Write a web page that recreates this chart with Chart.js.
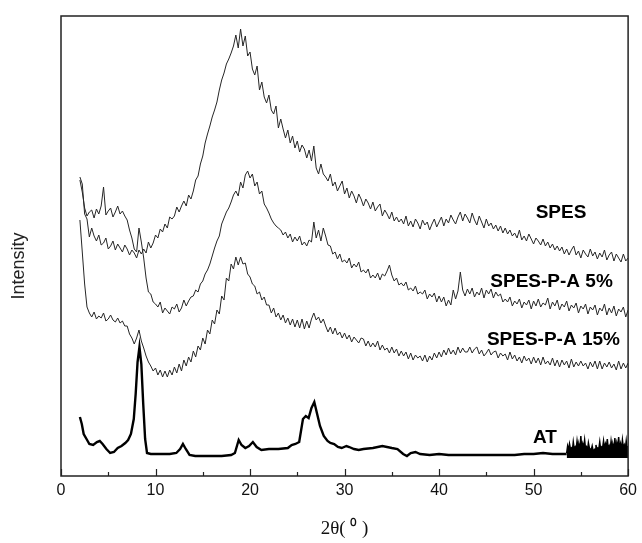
<!DOCTYPE html>
<html>
<head>
<meta charset="utf-8">
<script src="https://cdn.jsdelivr.net/npm/chart.js@4.4.1/dist/chart.umd.min.js"></script>
<style>
  html, body { margin: 0; padding: 0; background: #fff; }
  #xrd { display: block; }
</style>
</head>
<body>
<canvas id="xrd" width="642" height="543"></canvas>
<script>
// Scan grid for the three membrane patterns: 2θ from 2° in 0.25° steps
const scanStart = 2;
const scanStep = 0.25;

// Intensity (a.u.), one row per degree (.00 .25 .50 .75)
const spesCounts = [
  297, 290, 260, 255,
  237, 246, 238, 233,
  239, 229, 231, 236,
  225, 228, 233, 224,
  230, 226, 222, 229,
  225, 219, 224, 221,
  216, 224, 220, 225,
  221, 232, 226, 231,
  239, 236, 245, 242,
  250, 246, 257, 255,
  258, 267, 262, 268,
  273, 268, 279, 275,
  283, 294, 298, 310,
  318, 331, 340, 348,
  357, 364, 372, 384,
  394, 401, 410, 415,
  421, 428, 439, 426,
  445, 428, 438, 418,
  422, 405, 399, 408,
  384, 392, 377, 371,
  379, 364, 360, 368,
  346, 355, 345, 336,
  344, 331, 338, 326,
  333, 322, 329, 325,
  316, 324, 313, 328,
  306, 300, 310, 300,
  297, 293, 300, 288,
  292, 283, 288, 293,
  280, 286, 276, 283,
  278, 271, 280, 275,
  268, 275, 271, 265,
  272, 263, 267, 270,
  258, 264, 260, 255,
  262, 253, 257, 252,
  255, 250, 258, 248,
  253, 247, 255, 251,
  245, 254, 249, 252,
  244, 250, 255, 247,
  252, 257, 248, 255,
  251, 259, 254, 250,
  257, 262, 253, 260,
  256, 251, 261, 254,
  249, 258, 252, 246,
  255, 248, 251, 245,
  249, 243, 248, 241,
  246, 240, 244, 238,
  241, 236, 244, 234,
  238, 233, 240, 235,
  230, 236, 233, 229,
  235, 228, 232, 226,
  230, 224, 228, 223,
  227, 220, 225, 219,
  224, 228, 219, 223,
  216, 224, 220, 217,
  225, 218, 222, 215,
  221, 217, 224, 214,
  219, 222, 213, 220,
  216, 212, 220, 213,
  216
];

const spa5Counts = [
  294, 282, 266, 258,
  262, 264, 256, 265,
  260, 268, 287, 259,
  263, 266, 257, 262,
  268, 260, 263, 258,
  254, 244, 236, 225,
  222, 246, 232, 216,
  196, 182, 180, 172,
  170, 167, 172, 161,
  166, 163, 160, 167,
  165, 170, 162, 166,
  174, 168, 173, 177,
  178, 184, 182, 190,
  193, 200, 204, 210,
  218, 226, 233, 238,
  250, 256, 262, 266,
  272, 279, 283, 278,
  292, 286, 299, 303,
  296, 300, 288, 292,
  280, 283, 270, 266,
  261, 255, 251, 248,
  246, 244, 239, 242,
  236, 240, 232, 237,
  233, 238, 229, 232,
  228, 234, 232, 252,
  236, 244, 233, 246,
  238, 229, 228, 220,
  222, 215, 220, 212,
  214, 211, 216, 206,
  210, 207, 212, 202,
  204, 201, 205, 196,
  199, 196, 201, 194,
  200, 198, 203, 209,
  199, 193, 196, 189,
  191, 188, 192, 184,
  186, 183, 188, 180,
  182, 180, 184, 175,
  180, 177, 181, 172,
  178, 172, 177, 168,
  174, 169, 184, 175,
  183, 202, 184, 178,
  185, 180, 186, 177,
  182, 179, 186, 176,
  184, 180, 185, 176,
  182, 178, 180, 172,
  175, 172, 177, 168,
  173, 170, 175, 166,
  172, 169, 174, 165,
  173, 168, 175, 167,
  171, 169, 176, 165,
  172, 168, 174, 164,
  170, 167, 173, 163,
  169, 166, 171, 161,
  168, 165, 170, 160,
  167, 164, 169, 159,
  166, 163, 170, 159,
  166, 161, 168, 158,
  165, 162, 167, 157,
  164
];

const spa15Counts = [
  254, 222, 190, 167,
  161, 157, 162, 155,
  158, 156, 161, 153,
  155, 159, 154, 152,
  156, 151, 153, 148,
  148, 140, 136, 130,
  136, 144, 133, 126,
  118, 112, 108, 103,
  106, 99, 104, 97,
  103, 97, 104, 99,
  107, 101, 110, 103,
  114, 108, 117, 112,
  123, 117, 128, 124,
  136, 130, 144, 140,
  154, 150, 164, 160,
  178, 174, 196, 193,
  210, 205, 217, 209,
  217, 210, 211, 200,
  197, 190, 188, 180,
  182, 174, 177, 169,
  169, 161, 166, 157,
  161, 154, 159, 151,
  156, 149, 155, 147,
  154, 146, 155, 145,
  153, 146, 155, 161,
  154, 157, 151, 155,
  148, 142, 147, 140,
  146, 139, 142, 136,
  141, 135, 139, 132,
  137, 134, 131, 136,
  135, 128, 133, 127,
  131, 127, 133, 124,
  129, 124, 126, 121,
  127, 121, 125, 118,
  123, 118, 122, 115,
  121, 114, 119, 116,
  118, 113, 119, 112,
  118, 114, 121, 116,
  122, 117, 124, 119,
  126, 120, 124, 119,
  127, 121, 126, 122,
  122, 127, 121, 125,
  127, 120, 124, 118,
  121, 125, 119, 122,
  123, 116, 121, 118,
  120, 114, 122, 115,
  119, 113, 117, 111,
  118, 113, 116, 110,
  117, 111, 116, 109,
  117, 110, 113, 109,
  116, 108, 114, 107,
  114, 109, 113, 106,
  115, 107, 112, 108,
  113, 108, 111, 105,
  112, 107, 113, 105,
  113, 105, 111, 107,
  112, 106, 110, 104,
  113, 105, 111, 106,
  111
];

// AT pattern, irregular angles (sharp peaks), up to 53.5°
const atTheta = [
  2.0, 2.2, 2.4, 2.7, 3.0, 3.4, 3.8, 4.1, 4.4, 4.8, 5.2, 5.6, 6.0, 6.4, 6.8, 7.1, 7.4, 7.7, 7.9,
  8.1, 8.3, 8.5, 8.7, 8.9, 9.1, 9.5, 10.5, 11.5, 12.2, 12.6, 12.9, 13.2, 13.6, 14.2, 15, 16, 17,
  18, 18.4, 18.8, 19.1, 19.5, 19.9, 20.3, 20.7, 21.2, 22, 23, 24, 24.4, 24.8, 25.2, 25.6, 25.9,
  26.2, 26.5, 26.8, 27.1, 27.4, 27.8, 28.2, 28.5, 28.9, 29.3, 29.7, 30.2, 30.5, 31, 31.5, 32,
  33, 34, 35, 35.6, 36.2, 36.6, 37, 37.5, 38, 39, 40, 41, 42, 43, 44, 45, 46, 47, 48, 49, 50,
  51, 52, 53, 53.5
];
const atCounts = [
  57, 50, 40, 35, 30, 29, 32, 33, 30, 25, 21, 22, 26, 28, 31, 34, 40, 55, 80,
  112, 127, 110, 70, 35, 21, 20, 20, 20, 21, 25, 30, 25, 19, 18, 18, 18, 18,
  19, 21, 34, 29, 26, 28, 32, 27, 24, 25, 25, 26, 29, 30, 32, 55, 58,
  56, 66, 72, 60, 48, 38, 33, 31, 30, 27, 26, 28, 27, 25, 24, 25,
  26, 28, 26, 25, 20, 18, 21, 22, 20, 19, 20, 19, 19, 19, 19, 19, 19, 19, 19, 20, 20,
  21, 20, 20, 20
];

// AT noisy tail above 53.5°, drawn as a solid black band
const atTailTheta = [
  53.5, 53.6, 53.7, 53.8, 53.9, 54.0, 54.1, 54.2, 54.3, 54.4, 54.5, 54.6, 54.7, 54.8, 54.9,
  55.0, 55.1, 55.2, 55.3, 55.4, 55.5, 55.6, 55.7, 55.8, 55.9, 56.0, 56.1, 56.2, 56.3, 56.4,
  56.5, 56.6, 56.7, 56.8, 56.9, 57.0, 57.1, 57.2, 57.3, 57.4, 57.5, 57.6, 57.7, 57.8, 57.9,
  58.0, 58.1, 58.2, 58.3, 58.4, 58.5, 58.6, 58.7, 58.8, 58.9, 59.0, 59.1, 59.2, 59.3, 59.4,
  59.5, 59.6, 59.7, 59.8, 59.9, 60.0
];
const atTailCounts = [
  21, 28, 24, 30, 25, 26, 23, 32, 25, 27, 24, 33, 26, 29, 25,
  38, 24, 30, 26, 34, 25, 27, 23, 31, 26, 25, 24, 28, 23, 24,
  25, 29, 24, 26, 25, 32, 24, 27, 26, 33, 25, 30, 26, 35, 25,
  28, 24, 33, 26, 29, 25, 36, 24, 31, 26, 37, 25, 30, 24, 34,
  26, 29, 25, 33, 24, 28
];
const atTailFloor = 16;

// In-plot sample labels
const labelText = ['SPES', 'SPES-P-A 5%', 'SPES-P-A 15%', 'AT'];
const labelTheta = [52.9, 51.9, 52.1, 51.2];
const labelLevel = [261, 192, 134, 36];

const scanTheta = spesCounts.map((_, i) => scanStart + i * scanStep);
const toPoints = (xs, ys) => ys.map((v, i) => ({ x: xs[i], y: v }));

const frameAndLabels = {
    id: 'frameAndLabels',
    afterDraw(chart) {
        const { ctx, chartArea: a, scales: { x, y } } = chart;
        ctx.save();
        ctx.strokeStyle = '#222';
        ctx.lineWidth = 1.5;
        ctx.strokeRect(a.left, a.top, a.right - a.left, a.bottom - a.top);

        // inward ticks on the 2θ axis, long every 10°, short every 5°
        ctx.lineWidth = 1.2;
        for (let v = 0; v <= 60; v += 5) {
            const px = Math.round(x.getPixelForValue(v)) + 0.5;
            const len = v % 10 === 0 ? 7 : 4;
            ctx.beginPath();
            ctx.moveTo(px, a.bottom);
            ctx.lineTo(px, a.bottom - len);
            ctx.stroke();
        }

        ctx.fillStyle = '#000';
        ctx.font = 'bold 19px "Liberation Sans", Arial, sans-serif';
        ctx.textAlign = 'center';
        ctx.textBaseline = 'middle';
        labelText.forEach((t, i) => {
            ctx.fillText(t, x.getPixelForValue(labelTheta[i]), y.getPixelForValue(labelLevel[i]));
        });

        // y-axis title
        ctx.translate(19, 266);
        ctx.rotate(-Math.PI / 2);
        ctx.fillStyle = '#222';
        ctx.font = '18px "Liberation Sans", Arial, sans-serif';
        ctx.fillText('Intensity', 0, 0);
        ctx.restore();
    }
};

const thin = { borderColor: '#262626', borderWidth: 1, pointRadius: 0, tension: 0, fill: false };

new Chart(document.getElementById('xrd'), {
    type: 'line',
    data: {
        datasets: [
            { label: 'SPES', data: toPoints(scanTheta, spesCounts), ...thin },
            { label: 'SPES-P-A 5%', data: toPoints(scanTheta, spa5Counts), ...thin },
            { label: 'SPES-P-A 15%', data: toPoints(scanTheta, spa15Counts), ...thin },
            { label: 'AT', data: toPoints(atTheta, atCounts), borderColor: '#000', borderWidth: 2.4,
              pointRadius: 0, tension: 0, fill: false },
            { label: 'AT tail', data: toPoints(atTailTheta, atTailCounts), borderColor: '#000',
              borderWidth: 1.5, backgroundColor: '#000', pointRadius: 0, tension: 0,
              fill: { value: atTailFloor } }
        ]
    },
    options: {
        responsive: false,
        devicePixelRatio: 1,
        animation: false,
        layout: { padding: { top: 16, right: 12, bottom: 0, left: 0 } },
        plugins: { legend: { display: false }, tooltip: { enabled: false } },
        scales: {
            x: {
                type: 'linear',
                min: 0,
                max: 60,
                grid: { display: false, drawTicks: false },
                border: { display: false },
                ticks: {
                    stepSize: 10,
                    padding: 5,
                    color: '#111',
                    font: { family: '"Liberation Sans", Arial, sans-serif', size: 16 }
                },
                title: {
                    display: true,
                    text: '2θ( ⁰ )',
                    color: '#111',
                    padding: { top: 0, bottom: 3 },
                    font: { family: '"Liberation Serif", "Times New Roman", serif', size: 19 }
                },
                afterFit(scale) { scale.height = 67; }
            },
            y: {
                min: -2,
                max: 458,
                grid: { display: false },
                border: { display: false },
                ticks: { display: false },
                afterFit(scale) { scale.width = 61; }
            }
        }
    },
    plugins: [frameAndLabels]
});
</script>
</body>
</html>
